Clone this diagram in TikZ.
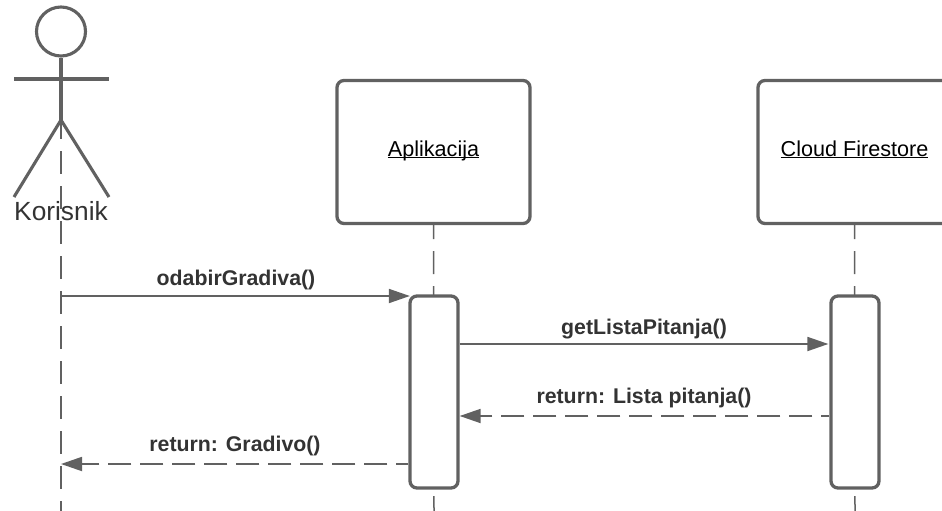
\documentclass[tikz,border=0pt]{standalone}
\usepackage{fontspec}
\setmainfont{Liberation Sans}
\usetikzlibrary{arrows.meta,calc}
\definecolor{ln}{HTML}{616161}
\definecolor{tx}{HTML}{333333}
\newcommand{\ulbl}[1]{\underline{\smash{#1}}}
\tikzset{
  lifebox/.style={draw=ln,line width=3.3pt,rounded corners=7pt,fill=white,minimum width=193pt,minimum height=143pt,inner sep=0pt,text=black,text height=14pt,text depth=6pt,font=\fontsize{21.6}{25}\selectfont},
  actbox/.style={draw=ln,line width=3.3pt,rounded corners=7pt,fill=white,minimum width=48pt,minimum height=192pt,inner sep=0pt},
  lifeline/.style={draw=ln,line width=1.5pt,dash pattern=on 23pt off 12pt},
  limb/.style={draw=ln,line width=3.1pt},
  msg/.style={draw=ln,line width=1.8pt,-{Triangle[length=21pt,width=14pt,fill=ln]}},
  ret/.style={msg,dash pattern=on 23pt off 9pt},
  msglabel/.style={text=tx,font=\bfseries\fontsize{21.3}{25}\selectfont,inner sep=0pt},
}
\begin{document}
\begin{tikzpicture}[x=1pt,y=-1pt]
\useasboundingbox (0,0) rectangle (942,511);
\clip (0,0) rectangle (942,511);
\fill[white] (0,0) rectangle (942,511);
% free ends and message levels
\coordinate (hip) at (61,120);
\coordinate (armL) at (14,79);
\coordinate (armR) at (109,79);
\coordinate (footL) at (14,197);
\coordinate (footR) at (109,197);
\coordinate (endU) at (61,511);
\coordinate (endA) at (434,511);
\coordinate (endC) at (855,511);
\coordinate (m1) at (0,296);
\coordinate (m2) at (0,344);
\coordinate (m3) at (0,416);
\coordinate (m4) at (0,464);
% lifelines
\draw[lifeline,dash phase=4pt] (hip) -- (endU);
\node[lifebox,anchor=center] (app) at (433.5,152) {\ulbl{Aplikacija}};
\node[lifebox,anchor=center] (fire) at (854.5,152) {\ulbl{Cloud Firestore}};
\draw[lifeline,dash phase=9pt] (app.south) -- (endA);
\draw[lifeline,dash phase=9pt] (fire.south) -- (endC);
\node[actbox] (actA) at (434,392) {};
\node[actbox] (actC) at (855,392) {};
% actor
\node[draw=ln,line width=3.1pt,circle,minimum size=49pt,inner sep=0pt] (head) at (61,31.5) {};
\draw[limb] (head.south) -- (hip);
\draw[limb] (armL) -- (armR);
\draw[limb] (footL) -- (hip) -- (footR);
\node[text=tx,font=\fontsize{26.3}{30}\selectfont,inner sep=0pt] (user) at (61,211) {Korisnik};
% messages
\draw[msg,shorten >=-1.5pt] (hip |- m1) -- (actA.west |- m1);
\draw[msg,shorten >=1pt] (actA.east |- m2) -- (actC.west |- m2);
\draw[ret,dash phase=15pt] (actC.west |- m3) -- (actA.east |- m3);
\draw[ret,dash phase=11pt] (actA.west |- m4) -- (hip |- m4);
\node[msglabel] (l1) at (236,279.5) {odabirGradiva()};
\node[msglabel] (l2) at (644,329) {getListaPitanja()};
\node[msglabel] (l3) at (644,398) {return: Lista pitanja()};
\node[msglabel] (l4) at (235,446) {return: Gradivo()};
\end{tikzpicture}
\end{document}
